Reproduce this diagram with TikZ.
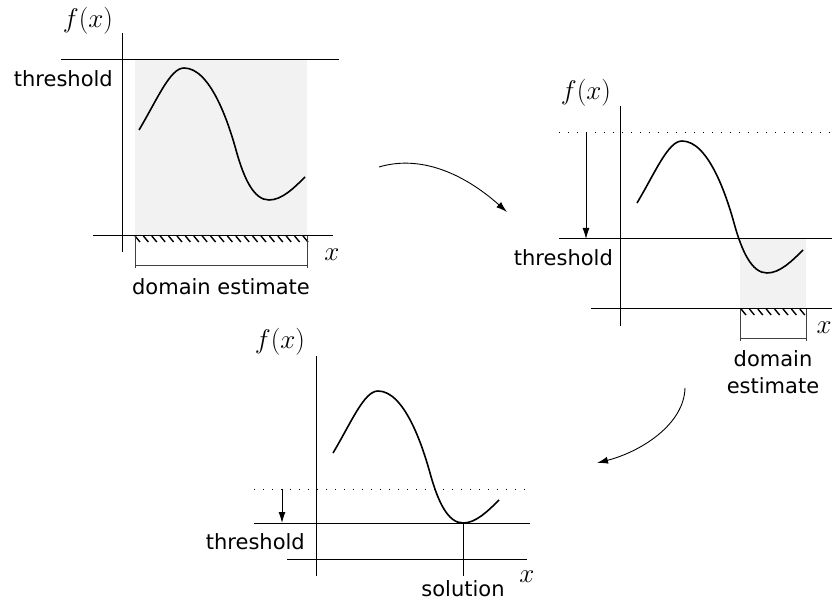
\documentclass[tikz,border=0pt]{standalone}
\usepackage{fix-cm}
\usepackage{fontspec}
\setmainfont{DejaVu Sans}
\usetikzlibrary{arrows.meta}
\definecolor{shadegray}{HTML}{F2F2F2}
\tikzset{
  axisline/.style={line width=1pt},
  thrline/.style={line width=1pt},
  oldthr/.style={line width=1pt, dash pattern=on 1pt off 8pt},
  hatchmark/.style={line width=1.4pt},
  bracketline/.style={line width=1pt, black!75},
  lbl/.style={font=\fontsize{21}{27}\selectfont, inner sep=0pt},
  mathlbl/.style={font=\fontsize{27}{30}\selectfont, inner sep=0pt},
  fx/.pic={\draw[line width=1.6pt] (17,106) .. controls (35,136) and (48,168) .. (62,168)
     .. controls (88,168) and (106,115) .. (114,86)
     .. controls (122,57) and (132,36) .. (147,36)
     .. controls (160,36) and (172,48) .. (183,59);},
}
\begin{document}
\begin{tikzpicture}[x=1pt, y=1pt, >={Latex[length=11pt,width=7pt]}]
\useasboundingbox (0,0) rectangle (832,600);
% first guess: threshold on top
\begin{scope}[shift={(122,364)}]
\fill[shadegray] (13,0) rectangle (185,176);
\draw[axisline] (0,-16) -- (0,203);
\draw[axisline] (-29,0) -- (211,0);
\draw[thrline] (-61,176) -- (217,176);
\pic {fx};
\foreach \i in {0,...,20}
  \draw[hatchmark] (15.5+8.4*\i-2.5,0) -- ++(5,-6);
\draw[bracketline] (13,0) -- (13,-32) (185,0) -- (185,-32) (13,-30) -- (185,-30);
\node[mathlbl] (f1) at (-34,215) {$f(x)$};
\node[mathlbl] (x1) at (210,-19) {$x$};
\node[lbl, anchor=north east] (thr1) at (-9,166) {threshold};
\node[lbl, anchor=north] (dom1) at (99,-42) {domain estimate};
\end{scope}
% second step: lower threshold
\begin{scope}[shift={(620,291)}]
\fill[shadegray] (120,0) rectangle (186,70);
\draw[axisline] (0,-17) -- (0,203);
\draw[axisline] (-29,0) -- (220,0);
\draw[oldthr] (-61,176) -- (220,176);
\draw[thrline] (-61,70) -- (220,70);
\coordinate (old2) at (-34,176);
\coordinate (new2) at (-34,70);
\draw[->, line width=1pt] (old2) -- (new2);
\pic {fx};
\foreach \i in {0,...,7}
  \draw[hatchmark] (123.5+8.4*\i-2.5,0) -- ++(5,-6);
\draw[bracketline] (120,0) -- (120,-32) (186,0) -- (186,-32) (120,-30) -- (186,-30);
\node[mathlbl] (f2) at (-34,216) {$f(x)$};
\node[mathlbl] (x2) at (204,-19) {$x$};
\node[lbl, anchor=north east] (thr2) at (-7,60) {threshold};
\node[lbl, anchor=north, align=center] (dom2) at (153,-41) {domain\\estimate};
\end{scope}
% last step: threshold touches minimum
\begin{scope}[shift={(316,41)}]
\draw[axisline] (0,-17) -- (0,203);
\draw[axisline] (-29,0) -- (211,0);
\draw[oldthr] (-62,70) -- (214,70);
\draw[thrline] (-62,36) -- (214,36);
\coordinate (old3) at (-34,70);
\coordinate (new3) at (-34,36);
\draw[->, line width=1pt] (old3) -- (new3);
\pic {fx};
\coordinate (sol) at (147,36);
\coordinate (solb) at (147,-17);
\draw[axisline] (sol) -- (solb);
\node[mathlbl] (f3) at (-36,217) {$f(x)$};
\node[mathlbl] (x3) at (211,-18) {$x$};
\node[lbl, anchor=north east] (thr3) at (-11,26) {threshold};
\node[lbl, anchor=north] (soln) at (147,-21) {solution};
\end{scope}
% arrows between steps
\coordinate (s1) at (379,433);
\coordinate (e1) at (507,388);
\draw[->, line width=0.9pt] (s1) .. controls (419,445) and (462,428) .. (e1);
\coordinate (s2) at (685,212);
\coordinate (e2) at (597,137);
\draw[->, line width=0.9pt] (s2) .. controls (684,175) and (640,148) .. (e2);
\end{tikzpicture}
\end{document}
